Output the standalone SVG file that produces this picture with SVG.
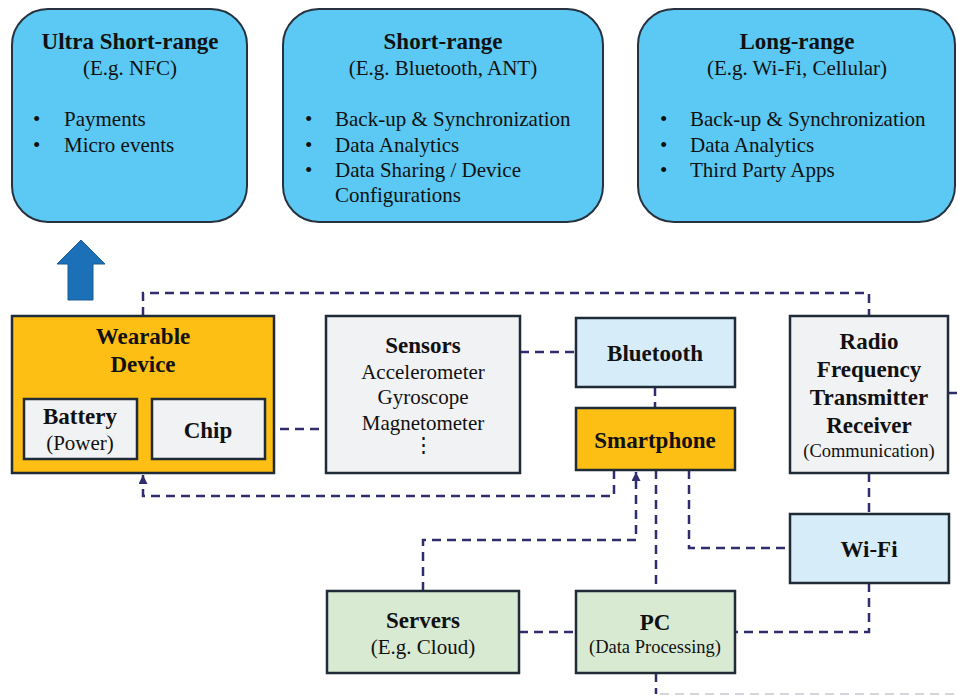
<svg xmlns="http://www.w3.org/2000/svg" width="957" height="696" viewBox="0 0 957 696">
  <style>
    .range { fill: #5bc9f4; stroke: #27323e; stroke-width: 2; }
    .node { stroke: #1f2b37; stroke-width: 2.5; }
    .amber { fill: #fdbf14; }
    .grey { fill: #f1f2f3; }
    .sky { fill: #d6ecf8; }
    .mint { fill: #d9ead3; }
    text { font-family: "Liberation Serif", "Times New Roman", serif; fill: #111; }
    .t { font-size: 23px; font-weight: bold; text-anchor: middle; }
    .s { font-size: 21px; text-anchor: middle; }
    .sm { font-size: 18.5px; text-anchor: middle; }
    .b { font-size: 21px; }
    .link { fill: none; stroke: #2f2d6b; stroke-width: 2.5; stroke-dasharray: 9 6; }
  </style>
  <defs>
    <marker id="head" viewBox="0 0 10 10" refX="10" refY="5" markerWidth="9" markerHeight="9" orient="auto" markerUnits="userSpaceOnUse">
      <path d="M0,0 L10,5 L0,10 Z" fill="#2f2d6b"/>
    </marker>
  </defs>

  <!-- range categories -->
  <g id="ultra-short-range">
    <rect class="range" x="12" y="9" width="235" height="213" rx="36"/>
    <text class="t" x="130" y="49">Ultra Short-range</text>
    <text class="s" x="130" y="75">(E.g. NFC)</text>
    <text class="b" x="33" y="126">•</text><text class="b" x="64" y="126">Payments</text>
    <text class="b" x="33" y="152">•</text><text class="b" x="64" y="152">Micro events</text>
  </g>
  <g id="short-range">
    <rect class="range" x="283" y="9" width="320" height="213" rx="36"/>
    <text class="t" x="443" y="49">Short-range</text>
    <text class="s" x="443" y="75">(E.g. Bluetooth, ANT)</text>
    <text class="b" x="305" y="126">•</text><text class="b" x="335" y="126">Back-up &amp; Synchronization</text>
    <text class="b" x="305" y="152">•</text><text class="b" x="335" y="152">Data Analytics</text>
    <text class="b" x="305" y="177">•</text><text class="b" x="335" y="177">Data Sharing / Device</text>
    <text class="b" x="335" y="202">Configurations</text>
  </g>
  <g id="long-range">
    <rect class="range" x="638" y="9" width="317" height="213" rx="36"/>
    <text class="t" x="797" y="49">Long-range</text>
    <text class="s" x="797" y="75">(E.g. Wi-Fi, Cellular)</text>
    <text class="b" x="660" y="126">•</text><text class="b" x="690" y="126">Back-up &amp; Synchronization</text>
    <text class="b" x="660" y="152">•</text><text class="b" x="690" y="152">Data Analytics</text>
    <text class="b" x="660" y="177">•</text><text class="b" x="690" y="177">Third Party Apps</text>
  </g>

  <!-- block arrow pointing up -->
  <g id="up-arrow">
    <path d="M81,240 L105,264 L93,264 L93,300 L68,300 L68,264 L57,264 Z" fill="#1b70b8" stroke="#1a5a92" stroke-width="1"/>
  </g>

  <!-- connectors -->
  <g id="connectors">
    <path class="link" d="M143,316 V293 H869 V316"/>
    <path class="link" d="M265,429 H326"/>
    <path class="link" d="M520,352 H576"/>
    <path class="link" d="M655,387 V408"/>
    <path class="link" d="M614,470 V496 H143 V475" marker-end="url(#head)"/>
    <path class="link" d="M423,591 V540 H636 V472" marker-end="url(#head)"/>
    <path class="link" d="M656,470 V591"/>
    <path class="link" d="M689,470 V548 H790"/>
    <path class="link" d="M869,473 V514"/>
    <path class="link" d="M869,583 V632 H735"/>
    <path class="link" d="M519,632 H576"/>
    <path class="link" d="M656,673 V694"/>
    <path d="M660,694 H957" fill="none" stroke="#d4d6dc" stroke-width="2" stroke-dasharray="9 6"/>
    <path d="M948,393 H957" fill="none" stroke="#2f2d6b" stroke-width="2.5"/>
  </g>

  <!-- nodes -->
  <g id="wearable-device">
    <rect class="node amber" x="12" y="316" width="262" height="157"/>
    <text class="t" x="143" y="344">Wearable</text>
    <text class="t" x="143" y="372">Device</text>
  </g>
  <g id="battery">
    <rect class="node grey" x="24" y="399" width="113" height="60"/>
    <text class="t" x="80" y="424">Battery</text>
    <text class="s" x="80" y="450">(Power)</text>
  </g>
  <g id="chip">
    <rect class="node grey" x="152" y="399" width="113" height="60"/>
    <text class="t" x="208" y="438">Chip</text>
  </g>
  <g id="sensors">
    <rect class="node grey" x="326" y="316" width="194" height="157"/>
    <text class="t" x="423" y="353">Sensors</text>
    <text class="s" x="423" y="379">Accelerometer</text>
    <text class="s" x="423" y="404">Gyroscope</text>
    <text class="s" x="423" y="430">Magnetometer</text>
    <text class="s" x="423" y="452">⋮</text>
  </g>
  <g id="bluetooth">
    <rect class="node sky" x="576" y="318" width="159" height="69"/>
    <text class="t" x="655" y="361">Bluetooth</text>
  </g>
  <g id="smartphone">
    <rect class="node amber" x="576" y="408" width="159" height="62"/>
    <text class="t" x="655" y="448">Smartphone</text>
  </g>
  <g id="rf-transceiver">
    <rect class="node grey" x="790" y="316" width="158" height="157"/>
    <text class="t" x="869" y="349">Radio</text>
    <text class="t" x="869" y="377">Frequency</text>
    <text class="t" x="869" y="405">Transmitter</text>
    <text class="t" x="869" y="433">Receiver</text>
    <text class="sm" x="869" y="457">(Communication)</text>
  </g>
  <g id="wifi">
    <rect class="node sky" x="790" y="514" width="159" height="69"/>
    <text class="t" x="869" y="557">Wi-Fi</text>
  </g>
  <g id="servers">
    <rect class="node mint" x="327" y="591" width="192" height="82"/>
    <text class="t" x="423" y="628">Servers</text>
    <text class="s" x="423" y="654">(E.g. Cloud)</text>
  </g>
  <g id="pc">
    <rect class="node mint" x="576" y="591" width="159" height="82"/>
    <text class="t" x="655" y="630">PC</text>
    <text class="sm" x="655" y="653">(Data Processing)</text>
  </g>
</svg>
